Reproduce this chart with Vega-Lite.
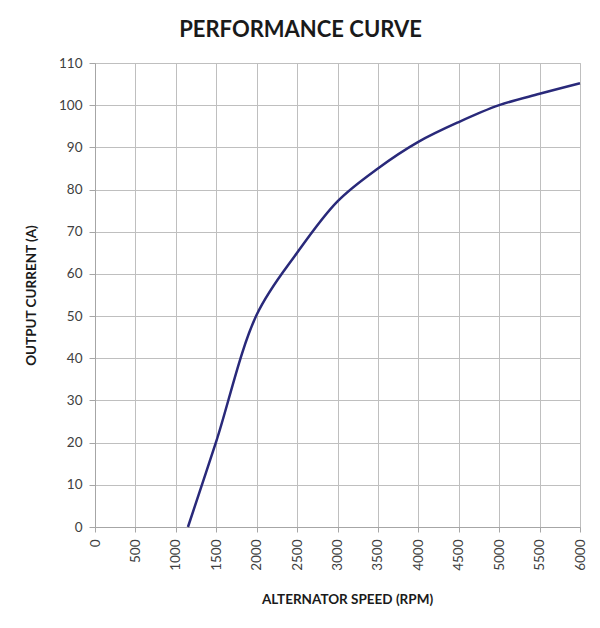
{
  "$schema": "https://vega.github.io/schema/vega-lite/v6.json",
  "autosize": {"type": "none"},
  "width": 485,
  "height": 464,
  "padding": {"left": 95, "top": 63, "right": 20, "bottom": 101},
  "background": "white",
  "title": {
    "text": "PERFORMANCE CURVE",
    "font": "Lato",
    "fontSize": 22,
    "fontWeight": "bold",
    "color": "#1a1a1a",
    "anchor": "middle",
    "dx": -37,
    "offset": 14
  },
  "data": {
    "values": [
      {"rpm": 1150, "amps": 0},
      {"rpm": 1500, "amps": 20.3},
      {"rpm": 2000, "amps": 50.3},
      {"rpm": 2500, "amps": 65},
      {"rpm": 3000, "amps": 77.2},
      {"rpm": 3500, "amps": 85},
      {"rpm": 4000, "amps": 91.3},
      {"rpm": 4500, "amps": 96},
      {"rpm": 5000, "amps": 100},
      {"rpm": 5500, "amps": 102.7},
      {"rpm": 6000, "amps": 105.2}
    ]
  },
  "mark": {"type": "line", "interpolate": "catmull-rom", "color": "#29297a", "strokeWidth": 2.5},
  "encoding": {
    "x": {
      "field": "rpm",
      "type": "quantitative",
      "scale": {"domain": [0, 6000], "nice": false, "zero": true},
      "axis": {
        "title": "ALTERNATOR SPEED (RPM)",
        "values": [0, 500, 1000, 1500, 2000, 2500, 3000, 3500, 4000, 4500, 5000, 5500, 6000],
        "format": "d",
        "labelAngle": 270,
        "labelAlign": "right",
        "labelBaseline": "middle",
        "labelPadding": 7,
        "labelFontSize": 13.5,
        "tickSize": 5,
        "titlePadding": 22,
        "titleX": 252
      }
    },
    "y": {
      "field": "amps",
      "type": "quantitative",
      "scale": {"domain": [0, 110], "nice": false},
      "axis": {
        "title": "OUTPUT CURRENT (A)",
        "values": [0, 10, 20, 30, 40, 50, 60, 70, 80, 90, 100, 110],
        "tickSize": 6,
        "labelPadding": 7,
        "labelFontSize": 13.5,
        "titlePadding": 20
      }
    }
  },
  "config": {
    "view": {"stroke": "#bfbfbf", "strokeWidth": 1},
    "axis": {
      "grid": true,
      "gridColor": "#bfbfbf",
      "gridOpacity": 1,
      "gridWidth": 1,
      "domainColor": "#a6a6a6",
      "domainWidth": 1,
      "tickColor": "#a6a6a6",
      "labelFont": "Lato",
      "labelColor": "#404040",
      "titleFont": "Lato",
      "titleFontSize": 13.5,
      "titleFontWeight": "bold",
      "titleColor": "#1a1a1a"
    }
  }
}
